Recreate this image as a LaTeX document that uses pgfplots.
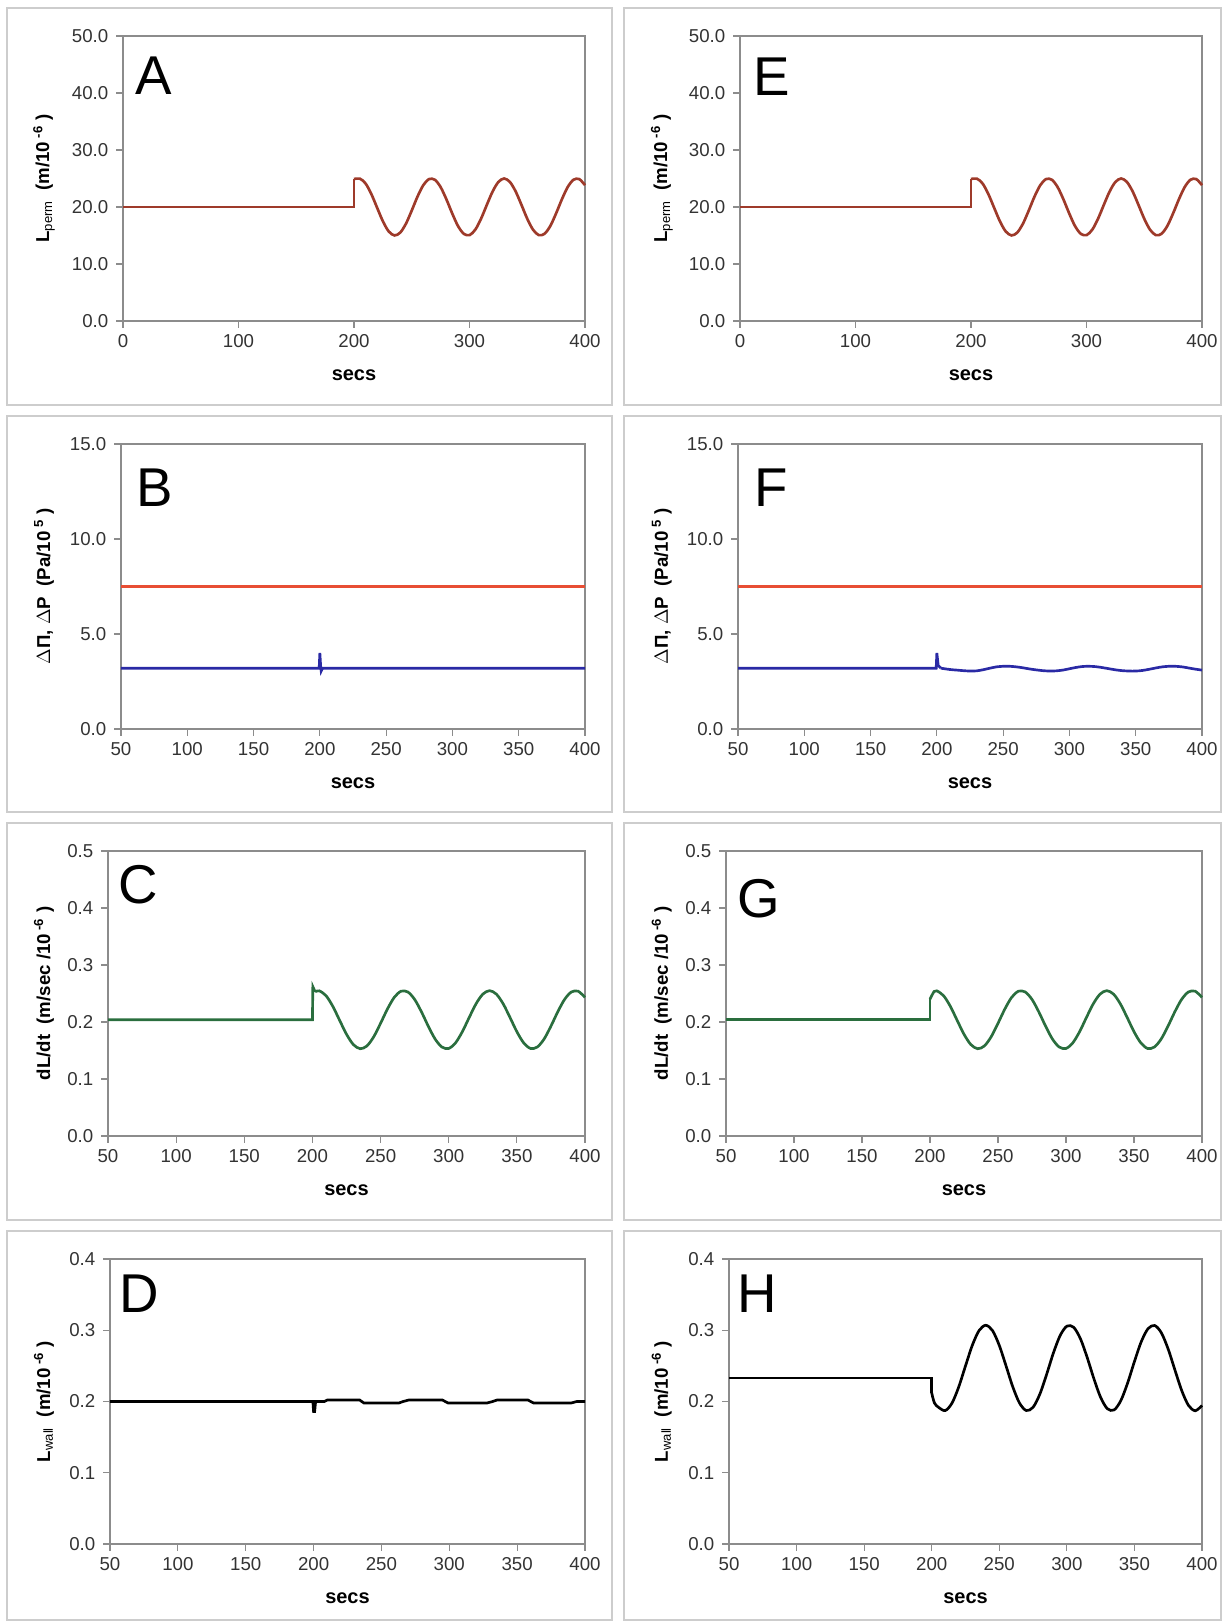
\documentclass[border=0pt]{standalone}
\usepackage{fontspec}
\setmainfont{Liberation Sans}
\usepackage{pgfplots}
\pgfplotsset{compat=1.18}
\definecolor{permred}{RGB}{158,58,42}
\definecolor{pired}{RGB}{232,78,52}
\definecolor{pblue}{RGB}{42,42,165}
\definecolor{dgreen}{RGB}{42,110,62}
\definecolor{axgray}{RGB}{140,140,140}
\definecolor{boxgray}{RGB}{205,205,205}

\pgfplotsset{
  panel/.style={
    scale only axis,
    height=213.75pt,
    anchor=south west,
    axis line style={axgray, line width=0.8pt},
    tick style={axgray, line width=0.8pt},
    major tick length=5pt,
    tick align=outside,
    xtick pos=lower, ytick pos=left,
    /pgf/number format/assume math mode=true,
    tick label style={font=\fontsize{14}{14}\selectfont, text=black!80},
    xticklabel style={yshift=-1.5pt},
    yticklabel style={xshift=-2.5pt},
    every axis x label/.style={at={(axis description cs:0.5,0)}, anchor=center, yshift=-40.5pt, font=\fontsize{15}{15}\selectfont\bfseries},
    every axis y label/.style={rotate=90, anchor=center, font=\fontsize{14}{14}\selectfont\bfseries},
    xlabel={secs},
    clip=false,
  },
  secs50/.style={xmin=50, xmax=400, xtick={50,100,...,400}},
  secs0/.style={xmin=0, xmax=400, xtick={0,100,...,400}},
  ydec/.style={yticklabel style={/pgf/number format/.cd, fixed, fixed zerofill, precision=1}},
}
\newcommand{\panellabel}[3]{\node[anchor=base west, font=\fontsize{41}{41}\selectfont, inner sep=0pt] at ([xshift=#2pt, yshift=#3pt]rel axis cs:0,1) {#1};}

\begin{document}
\begin{tikzpicture}
\path[use as bounding box] (0,0) rectangle (916.5pt,1216.5pt);
% panel frames
\foreach \yt/\yb in {1210.5/912.75, 904.5/607.5, 599.25/301.5, 293.25/1.5}{
  \draw[boxgray, line width=1.2pt] (5.25pt,\yt pt) rectangle (459pt,\yb pt);
  \draw[boxgray, line width=1.2pt] (468pt,\yt pt) rectangle (915.75pt,\yb pt);
}

% ---------- A ----------
\begin{axis}[panel, secs0, ydec, at={(92.25pt,975.75pt)}, width=346.5pt,
  ymin=0, ymax=50, ytick={0,10,...,50},
  ylabel={L\textsubscript{\mdseries perm}\ \ (m/10\textsuperscript{ -6} )},
  ylabel style={at={(axis description cs:-0.171,0.5)}}]
\addplot[permred, line width=2pt] coordinates {(0,20) (200,20) (200,24.9)};
\addplot[permred, line width=2pt, smooth] coordinates {
(200,24.9) (205,24.98) (210,24.13) (215,22.28) (220,19.88) (225,17.50) (230,15.73) (235,15.01)
(240,15.50) (245,17.08) (250,19.38) (255,21.83) (260,23.83) (265,24.90) (270,24.78) (275,23.49)
(280,21.35) (285,18.89) (290,16.68) (295,15.30) (300,15.06) (305,16.02) (310,17.94) (315,20.37)
(320,22.71) (325,24.39) (330,25.00) (335,24.39) (340,22.71) (345,20.37) (350,17.94) (355,16.02)
(360,15.06) (365,15.30) (370,16.68) (375,18.89) (380,21.35) (385,23.49) (390,24.78) (395,24.90) (400,23.83)};
\panellabel{A}{9}{-44.25}
\end{axis}

% ---------- E ----------
\begin{axis}[panel, secs0, ydec, at={(555pt,975.75pt)}, width=346.5pt,
  ymin=0, ymax=50, ytick={0,10,...,50},
  ylabel={L\textsubscript{\mdseries perm}\ \ (m/10\textsuperscript{ -6} )},
  ylabel style={at={(axis description cs:-0.169,0.5)}}]
\addplot[permred, line width=2pt] coordinates {(0,20) (200,20) (200,24.9)};
\addplot[permred, line width=2pt, smooth] coordinates {
(200,24.9) (205,24.98) (210,24.13) (215,22.28) (220,19.88) (225,17.50) (230,15.73) (235,15.01)
(240,15.50) (245,17.08) (250,19.38) (255,21.83) (260,23.83) (265,24.90) (270,24.78) (275,23.49)
(280,21.35) (285,18.89) (290,16.68) (295,15.30) (300,15.06) (305,16.02) (310,17.94) (315,20.37)
(320,22.71) (325,24.39) (330,25.00) (335,24.39) (340,22.71) (345,20.37) (350,17.94) (355,16.02)
(360,15.06) (365,15.30) (370,16.68) (375,18.89) (380,21.35) (385,23.49) (390,24.78) (395,24.90) (400,23.83)};
\panellabel{E}{9.75}{-45}
\end{axis}

% ---------- B ----------
\begin{axis}[panel, secs50, ydec, at={(90.75pt,669.75pt)}, width=348pt,
  ymin=0, ymax=15, ytick={0,5,10,15},
  ylabel={$\Delta$П, $\Delta$P\ \ (Pa/10\textsuperscript{ 5} )},
  ylabel style={at={(axis description cs:-0.166,0.5)}}]
\addplot[pired, line width=2pt] coordinates {(50,7.5) (400,7.5)};
\addplot[pblue, line width=2pt] coordinates {(50,3.2) (199.5,3.2) (200,4.0) (200.6,3.3) (201,3.05) (202,3.2) (400,3.2)};
\panellabel{B}{11.5}{-47.25}
\end{axis}

% ---------- F ----------
\begin{axis}[panel, secs50, ydec, at={(553.5pt,669.75pt)}, width=348pt,
  ymin=0, ymax=15, ytick={0,5,10,15},
  ylabel={$\Delta$П, $\Delta$P\ \ (Pa/10\textsuperscript{ 5} )},
  ylabel style={at={(axis description cs:-0.164,0.5)}}]
\addplot[pired, line width=2pt] coordinates {(50,7.5) (400,7.5)};
\addplot[pblue, line width=2pt] coordinates {(50,3.2) (199.5,3.2) (200,4.0) (201,3.35) (203,3.2)};
\addplot[pblue, line width=2pt, smooth] coordinates {
(203,3.2) (210,3.13) (215,3.10) (220,3.07) (225,3.05) (230,3.06) (235,3.12) (240,3.20) (245,3.27)
(250,3.30) (255,3.30) (260,3.27) (265,3.22) (270,3.16) (275,3.11) (280,3.07) (285,3.05) (290,3.06)
(295,3.10) (300,3.17) (305,3.24) (310,3.29) (315,3.30) (320,3.28) (325,3.23) (330,3.17) (335,3.11)
(340,3.07) (345,3.05) (350,3.05) (355,3.08) (360,3.14) (365,3.21) (370,3.27) (375,3.30) (380,3.30)
(385,3.27) (390,3.21) (395,3.15) (400,3.10)};
\panellabel{F}{12}{-47.25}
\end{axis}

% ---------- C ----------
\begin{axis}[panel, secs50, ydec, at={(81pt,364.5pt)}, width=357.75pt,
  ymin=0, ymax=0.5, ytick={0,0.1,...,0.5},
  ylabel={dL/dt\ \ (m/sec /10\textsuperscript{ -6} )},
  ylabel style={at={(axis description cs:-0.134,0.5)}}]
\addplot[dgreen, line width=2pt] coordinates {(50,0.204) (200,0.204) (200.3,0.262) (202,0.253)};
\addplot[dgreen, line width=2pt, smooth] coordinates {
(202,0.253) (205,0.2547) (210,0.2461) (215,0.2273) (220,0.2027) (225,0.1785) (230,0.1605) (235,0.1531)
(240,0.1580) (245,0.1742) (250,0.1977) (255,0.2226) (260,0.2431) (265,0.2540) (270,0.2527) (275,0.2396)
(280,0.2178) (285,0.1927) (290,0.1702) (295,0.1561) (300,0.1536) (305,0.1634) (310,0.1830) (315,0.2078)
(320,0.2317) (325,0.2488) (330,0.2550) (335,0.2488) (340,0.2317) (345,0.2078) (350,0.1830) (355,0.1634)
(360,0.1536) (365,0.1561) (370,0.1702) (375,0.1927) (380,0.2178) (385,0.2396) (390,0.2527) (395,0.2540) (400,0.2431)};
\panellabel{C}{7.5}{-39}
\end{axis}

% ---------- G ----------
\begin{axis}[panel, secs50, ydec, at={(544.5pt,364.5pt)}, width=357pt,
  ymin=0, ymax=0.5, ytick={0,0.1,...,0.5},
  ylabel={dL/dt\ \ (m/sec /10\textsuperscript{ -6} )},
  ylabel style={at={(axis description cs:-0.135,0.5)}}]
\addplot[dgreen, line width=2pt] coordinates {(50,0.204) (200,0.204) (200,0.240)};
\addplot[dgreen, line width=2pt, smooth] coordinates {
(200,0.240) (203,0.2535) (205,0.2547) (210,0.2461) (215,0.2273) (220,0.2027) (225,0.1785) (230,0.1605) (235,0.1531)
(240,0.1580) (245,0.1742) (250,0.1977) (255,0.2226) (260,0.2431) (265,0.2540) (270,0.2527) (275,0.2396)
(280,0.2178) (285,0.1927) (290,0.1702) (295,0.1561) (300,0.1536) (305,0.1634) (310,0.1830) (315,0.2078)
(320,0.2317) (325,0.2488) (330,0.2550) (335,0.2488) (340,0.2317) (345,0.2078) (350,0.1830) (355,0.1634)
(360,0.1536) (365,0.1561) (370,0.1702) (375,0.1927) (380,0.2178) (385,0.2396) (390,0.2527) (395,0.2540) (400,0.2431)};
\panellabel{G}{8.25}{-50}
\end{axis}

% ---------- D ----------
\begin{axis}[panel, secs50, ydec, at={(82.5pt,58.5pt)}, width=356.25pt,
  ymin=0, ymax=0.4, ytick={0,0.1,...,0.4},
  ylabel={L\textsubscript{\mdseries wall}\ \ (m/10\textsuperscript{ -6} )},
  ylabel style={at={(axis description cs:-0.139,0.5)}}]
\addplot[black, line width=2pt] coordinates {
(50,0.200) (199.5,0.200) (200,0.186) (200.8,0.186) (201.5,0.200) (208,0.200) (210,0.202) (234,0.202)
(237,0.198) (263,0.198) (266,0.200) (270,0.202) (295,0.202) (299,0.198) (328,0.198) (332,0.200)
(335,0.202) (358,0.202) (362,0.198) (390,0.198) (394,0.200) (400,0.200)};
\panellabel{D}{6.75}{-39.75}
\end{axis}

% ---------- H ----------
\begin{axis}[panel, secs50, ydec, at={(546.75pt,58.5pt)}, width=354.75pt,
  ymin=0, ymax=0.4, ytick={0,0.1,...,0.4},
  ylabel={L\textsubscript{\mdseries wall}\ \ (m/10\textsuperscript{ -6} )},
  ylabel style={at={(axis description cs:-0.142,0.5)}}]
\addplot[black, line width=2pt] coordinates {(50,0.233) (200,0.233) (200,0.212)};
\addplot[black, line width=2pt, smooth] coordinates {
(200,0.212) (202,0.198) (205,0.1919) (210,0.1873) (215,0.1977) (220,0.2205) (225,0.2500) (230,0.2787)
(235,0.2995) (240,0.3070) (245,0.2995) (250,0.2787) (255,0.2500) (260,0.2205) (265,0.1977) (270,0.1873)
(275,0.1919) (280,0.2103) (285,0.2379) (290,0.2679) (295,0.2925) (300,0.3058) (305,0.3042) (310,0.2883)
(315,0.2620) (320,0.2320) (325,0.2057) (330,0.1898) (335,0.1882) (340,0.2015) (345,0.2262) (350,0.2561)
(355,0.2837) (360,0.3021) (365,0.3067) (370,0.2962) (375,0.2734) (380,0.2440) (385,0.2153) (390,0.1945)
(395,0.1870) (400,0.1945)};
\panellabel{H}{6}{-39.75}
\end{axis}
\end{tikzpicture}
\end{document}
